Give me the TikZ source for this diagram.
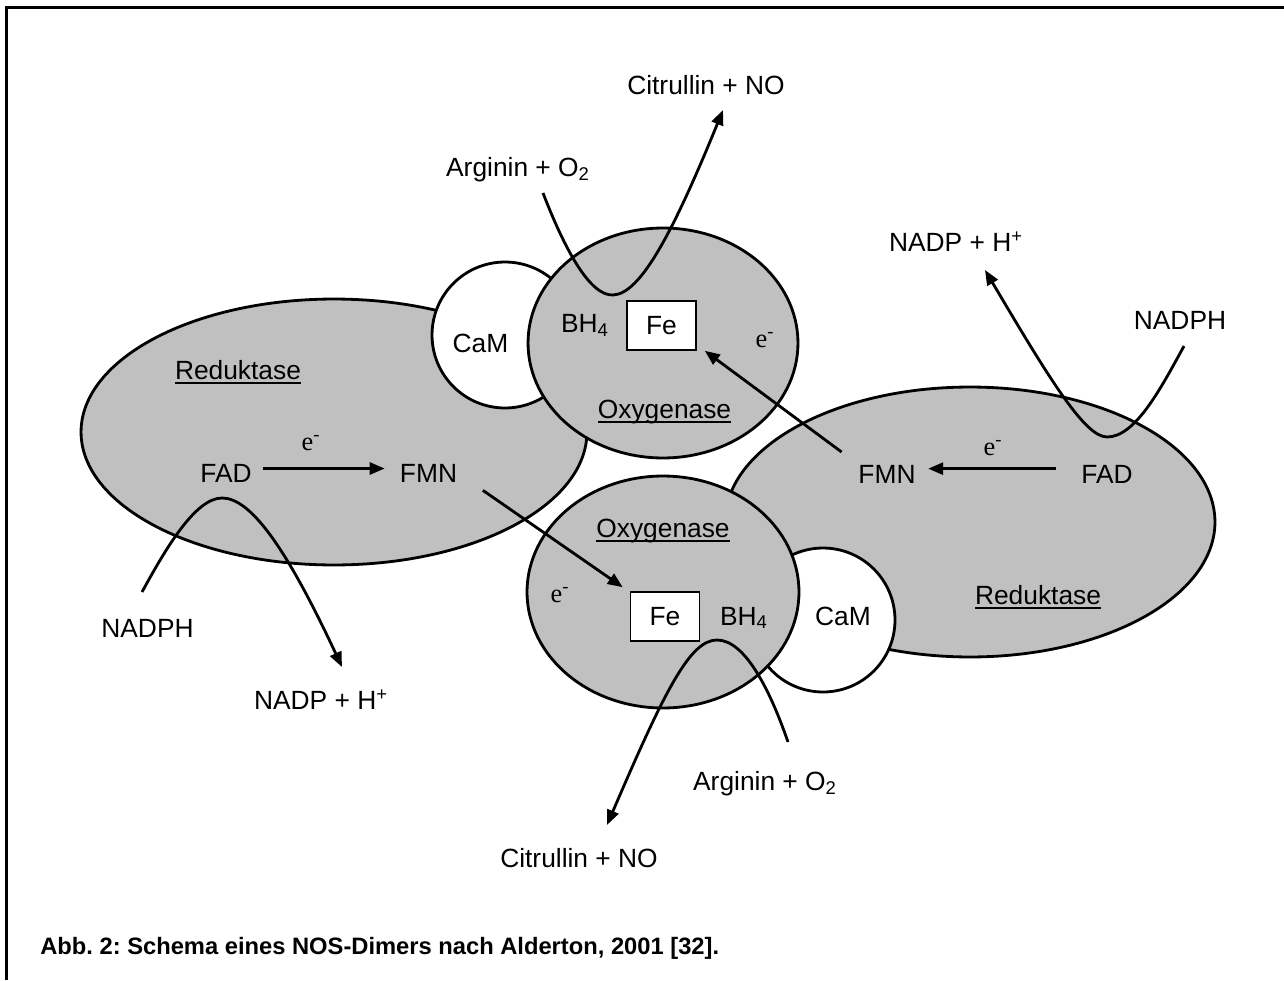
\documentclass[tikz,border=0pt]{standalone}
\usepackage{fontspec}
\setmainfont{Liberation Sans}
\newfontfamily\timesfont{Liberation Serif}
\usetikzlibrary{arrows.meta,positioning,shapes.geometric}
\definecolor{nGray}{HTML}{C0C0C0}
\newcommand{\udl}[1]{\leavevmode\setbox0\hbox{#1}\rlap{\vrule height -1.6pt depth 2.7pt width \wd0}\box0}
\frenchspacing
\tikzset{
  >={Triangle[length=3mm,width=2.4mm]},
  dom/.style ={ellipse,draw,fill=nGray,line width=1.6pt,inner sep=0pt},
  cam/.style ={circle,draw,fill=white,line width=1.6pt,inner sep=0pt},
  fe/.style  ={rectangle,draw,fill=white,line width=0.9pt,minimum width=1.38cm,minimum height=0.98cm,inner sep=0pt},
  lbl/.style ={anchor=base,inner sep=2pt},
  elec/.style={anchor=base,inner sep=1pt,font=\timesfont\fontsize{15}{17}\selectfont},
  flow/.style={->,line width=1.6pt},
  sub/.style ={line width=1.6pt},
}

\begin{document}
\begin{tikzpicture}[x=0.02cm,y=-0.02cm,font=\fontsize{15}{18}\selectfont]
  \useasboundingbox (0,0) rectangle (1284,980);
  \draw[line width=1.4pt] (6.5,980) -- (6.5,7.5) -- (1284,7.5);

  % monomer 1
  \node[dom,minimum width=10.12cm,minimum height=5.32cm] (redL) at (334,432) {};
  \node[cam,minimum size=2.92cm] (camT) at (505,335) {};
  \node[dom,minimum width=5.4cm,minimum height=4.6cm] (oxyT) at (663,343) {};
  % monomer 2
  \node[dom,minimum width=9.8cm,minimum height=5.4cm] (redR) at (970,522) {};
  \node[cam,minimum size=2.88cm] (camB) at (823,620) {};
  \node[dom,minimum width=5.44cm,minimum height=4.64cm] (oxyB) at (663,592) {};

  \node[fe] (feT) at (661.5,325.5) {Fe};
  \node[fe] (feB) at (665,616.5) {Fe};

  \node[lbl] (redLt) at (238,379.5) {\udl{Reduktase}};
  \node[lbl] (fadL) at (226,482.5) {FAD};
  \node[lbl] (fmnL) at (428.5,482.5) {FMN};
  \node[lbl] (camTt) at (480.5,352.5) {CaM};
  \node[lbl] (bhT) at (585,332.5) {BH\textsubscript{4}};
  \node[lbl] (oxyTt) at (664.5,418) {\udl{Oxygenase}};
  \node[lbl] (oxyBt) at (663,537) {\udl{Oxygenase}};
  \node[lbl] (bhB) at (744,625) {BH\textsubscript{4}};
  \node[lbl] (camBt) at (843,625) {CaM};
  \node[lbl] (fmnR) at (887,483) {FMN};
  \node[lbl] (fadR) at (1107,483) {FAD};
  \node[lbl] (redRt) at (1038,604) {\udl{Reduktase}};

  \node[elec] (eL) at (311,450) {e\textsuperscript{-}};
  \node[elec] (eR) at (993,455) {e\textsuperscript{-}};
  \node[elec] (eT) at (765,347) {e\textsuperscript{-}};
  \node[elec] (eB) at (560,602) {e\textsuperscript{-}};

  \node[lbl] (citT) at (706,94.5) {Citrullin + NO};
  \node[lbl] (argT) at (518,176.5) {Arginin + O\textsubscript{2}};
  \node[lbl] (nadpT) at (956,251.5) {NADP + H\textsuperscript{+}};
  \node[lbl] (nadphR) at (1180,329.5) {NADPH};
  \node[lbl] (nadphL) at (147.5,637.5) {NADPH};
  \node[lbl] (nadpB) at (321,709.5) {NADP + H\textsuperscript{+}};
  \node[lbl] (argB) at (765,790) {Arginin + O\textsubscript{2}};
  \node[lbl] (citB) at (579,867) {Citrullin + NO};

  \node[anchor=base west,inner sep=0pt,font=\bfseries\fontsize{13.5}{16}\selectfont] (capt) at (40,954)
        {Abb. 2: Schema eines NOS-Dimers nach Alderton, 2001 [32].};

  % electron flow
  \draw[flow,shorten <=4pt,shorten >=6.5pt] ([yshift=2.8pt]fadL.east) -- ([yshift=2.8pt]fmnL.west);
  \draw[flow,shorten <=12pt,shorten >=5pt] ([yshift=3pt]fadR.west) -- ([yshift=3pt]fmnR.east);
  \draw[flow] ([shift={(22,4)}]fmnL.south east) -- ([shift={(-7,-4)}]feB.north west);
  \draw[flow] ([shift={(-13,-9)}]fmnR.north west) -- ([shift={(8,0)}]feT.south east);

  % substrates
  \coordinate (argTa) at (543,193);
  \coordinate (citTa) at (723,110);
  \coordinate (nadphRa) at (1184,346);
  \coordinate (nadpTa) at (985,270);
  \coordinate (nadphLa) at (142,592);
  \coordinate (nadpBa) at (342,667);
  \coordinate (argBa) at (788,742);
  \coordinate (citBa) at (607,825);

  \draw[sub,->] (argTa) .. controls (565,250) and (590,296) .. (613,295)
                        .. controls (640,294) and (672,235) .. (citTa);
  \draw[sub,->] (nadphRa) .. controls (1160,390) and (1135,437) .. (1107,437)
                          .. controls (1085,437) and (1050,380) .. (nadpTa);
  \draw[sub,->] (nadphLa) .. controls (165,550) and (195,498) .. (222,498)
                          .. controls (250,498) and (285,545) .. (nadpBa);
  \draw[sub,->] (argBa) .. controls (770,690) and (745,640) .. (717,640)
                        .. controls (690,640) and (665,690) .. (citBa);
\end{tikzpicture}
\end{document}
